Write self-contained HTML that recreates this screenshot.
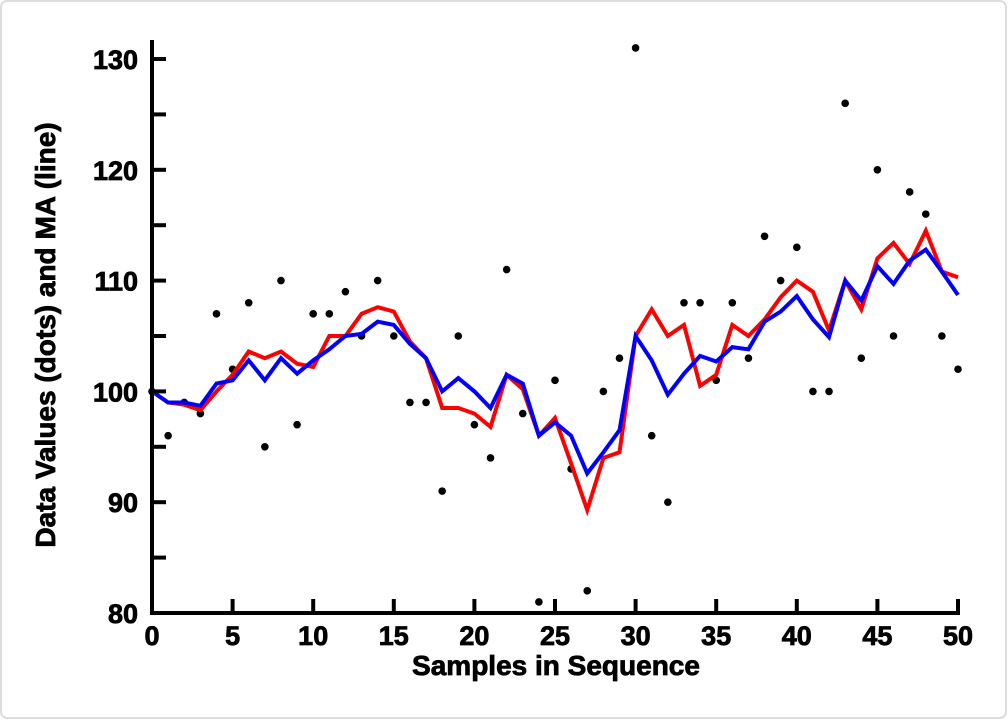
<!DOCTYPE html>
<html><head><meta charset="utf-8"><style>
html,body{margin:0;padding:0;background:#fff;}
svg{display:block;}
text{font-family:"Liberation Sans",Arial,sans-serif;font-weight:bold;fill:#000;stroke:#000;stroke-width:0.8;}
</style></head><body>
<svg id="s" width="1008" height="720" xmlns="http://www.w3.org/2000/svg">
<rect x="1" y="1" width="1005" height="717" rx="6" fill="#fff" stroke="#ddd" stroke-width="2"/>
<g id="g"></g>
</svg>
<script>
const X=x=>152+x*16.12, Y=v=>613-(v-80)*11.08;
const dots=[100,96,99,98,107,102,108,95,110,97,107,107,109,105,110,105,99,99,91,105,97,94,111,98,81,101,93,82,100,103,131,96,90,108,108,101,108,103,114,110,113,100,100,126,103,120,105,118,116,105,102];
const red=[100,99,98.8,98.3,100,101.5,103.6,103,103.6,102.5,102.2,105,105,107,107.6,107.2,104.5,103,98.5,98.5,98,96.8,101.5,100.2,96,97.6,93.5,89.3,94,94.5,105,107.4,105,106,100.5,101.5,106,105,106.5,108.5,110,109,105.5,110,107.4,112,113.4,111.5,114.5,110.8,110.3];
const blue=[100,99,99,98.7,100.7,101,102.8,101,103,101.6,102.8,103.8,105,105.2,106.3,106,104.3,103,100,101.2,100,98.5,101.5,100.7,96,97.2,96,92.6,94.5,96.5,105,102.8,99.7,101.6,103.2,102.7,104,103.8,106.3,107.2,108.6,106.5,104.9,110,108.2,111.3,109.7,111.8,112.8,110.8,108.7];
let h='';
const pts=a=>a.map((v,i)=>X(i).toFixed(1)+','+Y(v).toFixed(1)).join(' ');
dots.forEach((v,i)=>{h+=`<circle cx="${X(i)}" cy="${Y(v)}" r="3.8" fill="#000"/>`;});
h+=`<polyline points="${pts(red)}" fill="none" stroke="#f00" stroke-width="4"/>`;
h+=`<polyline points="${pts(blue)}" fill="none" stroke="#00f" stroke-width="4"/>`;
h+=`<path d="M152,40 V613 H960" fill="none" stroke="#000" stroke-width="4"/>`;
for(let v=80;v<=130;v+=5){const y=Y(v);h+=`<line x1="152" x2="166" y1="${y}" y2="${y}" stroke="#000" stroke-width="4"/>`;
 if(v%10==0)h+=`<text x="138" y="${y+10}" font-size="27" text-anchor="end">${v}</text>`;}
for(let x=0;x<=50;x+=5){const px=X(x);h+=`<line x1="${px}" x2="${px}" y1="613" y2="599" stroke="#000" stroke-width="4"/>`;
 h+=`<text x="${px}" y="645" font-size="27" text-anchor="middle">${x}</text>`;}
h+=`<text x="556" y="675" font-size="28" text-anchor="middle">Samples in Sequence</text>`;
h+=`<text transform="translate(55,335) rotate(-90)" font-size="28" text-anchor="middle">Data Values (dots) and MA (line)</text>`;
document.getElementById('g').innerHTML=h;
</script>
</body></html>
